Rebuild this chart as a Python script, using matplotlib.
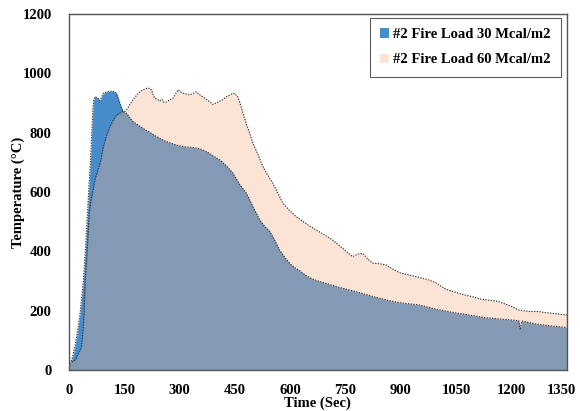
import numpy as np
import matplotlib.pyplot as plt
from matplotlib.transforms import ScaledTranslation

# --- fire test temperature curves (time in s, temperature in deg C) ---
t_30 = [0, 5, 10, 16, 23, 30, 39, 45, 50, 55, 58, 62, 66, 70, 77, 84, 93, 104, 115,
        122, 129, 138, 147, 156, 165, 174, 188, 201, 220, 237, 260, 291, 315, 336,
        355, 373, 390, 409, 427, 445, 463, 481, 499, 517, 530, 544, 557, 571, 585,
        598, 612, 625, 643, 661, 680, 697, 715, 740, 760, 778, 800, 823, 841, 870,
        896, 914, 950, 995, 1040, 1085, 1130, 1175, 1220, 1224, 1228, 1265, 1310, 1350]
temp_30 = [25, 27, 45, 79, 130, 191, 303, 416, 528, 640, 700, 810, 905, 921, 918, 908,
           933, 938, 940, 938, 933, 899, 871, 865, 850, 837, 825, 814, 800, 787, 772,
           758, 752, 750, 745, 736, 722, 708, 688, 663, 625, 596, 550, 506, 485, 468,
           440, 404, 380, 360, 345, 335, 318, 306, 298, 292, 285, 276, 270, 264, 256,
           248, 242, 233, 227, 224, 219, 205, 194, 185, 176, 171, 166, 135, 165, 155,
           148, 143]

t_60 = [0, 5, 10, 18, 25, 30, 34, 38, 41, 44, 47, 50, 55, 60, 66, 70, 75, 85, 93, 102,
        111, 120, 129, 143, 152, 156, 163, 170, 179, 188, 195, 201, 208, 215, 220, 224,
        229, 233, 240, 246, 252, 258, 264, 270, 276, 282, 289, 296, 302, 309, 318, 327,
        336, 345, 354, 363, 372, 381, 390, 399, 409, 418, 427, 436, 445, 452, 458, 465,
        472, 481, 490, 499, 513, 526, 540, 553, 567, 580, 598, 616, 643, 670, 693, 715,
        742, 769, 783, 796, 810, 823, 842, 860, 878, 896, 923, 950, 972, 995, 1022,
        1040, 1058, 1076, 1094, 1112, 1130, 1148, 1166, 1184, 1202, 1220, 1247, 1274,
        1292, 1310, 1330, 1350]
temp_60 = [25, 26, 28, 35, 56, 65, 79, 130, 191, 303, 360, 416, 528, 575, 610, 640, 660,
           700, 752, 790, 820, 842, 859, 870, 872, 876, 890, 904, 920, 933, 940, 944,
           948, 951, 947, 944, 925, 915, 912, 906, 912, 902, 903, 908, 912, 916, 930,
           944, 938, 933, 930, 927, 932, 938, 928, 921, 912, 905, 895, 900, 906, 912,
           921, 926, 933, 928, 921, 895, 865, 830, 798, 764, 725, 685, 655, 629, 595,
           562, 538, 517, 493, 472, 455, 438, 410, 382, 390, 393, 375, 360, 358, 354,
           340, 328, 320, 312, 305, 294, 272, 265, 258, 252, 247, 240, 236, 234, 230,
           222, 213, 202, 197, 197, 193, 191, 188, 185]

labels = ['#2 Fire Load 30 Mcal/m2', '#2 Fire Load 60 Mcal/m2']
x_ticks = np.arange(0, 1351, 150)
y_ticks = np.arange(0, 1201, 200)

plt.rcParams['font.family'] = ['Liberation Serif', 'DejaVu Serif']
plt.rcParams['font.weight'] = 'bold'

fig = plt.figure(figsize=(5.8, 4.11), dpi=100)
ax = fig.add_axes([0.119, 0.100, 0.858, 0.866])

blue = '#478ccb'
peach = '#f6b28a'
dots = (0, (1.2, 1.2))

ax.fill_between(t_30, temp_30, 0, color=blue, linewidth=0, label=labels[0])
ax.plot(t_30, temp_30, color='#333333', linestyle=dots, linewidth=0.8)
ax.fill_between(t_60, temp_60, 0, color=peach, alpha=0.35, linewidth=0, label=labels[1])
ax.plot(t_60, temp_60, color='#333333', linestyle=dots, linewidth=0.8)
ax.plot([1350, 1350], [0, temp_60[-1]], color='#555555', linestyle=dots, linewidth=0.8)

ax.set_xlim(0, 1350)
ax.set_ylim(0, 1200)
ax.set_xticks(x_ticks)
ax.set_yticks(y_ticks)
ax.tick_params(length=0, labelsize=10.5)
ax.tick_params(axis='x', pad=10)
ax.tick_params(axis='y', pad=12.5)
for lbl in ax.get_xticklabels() + ax.get_yticklabels():
    lbl.set_fontweight('bold')
# keep the last time label inside the figure
last = ax.get_xticklabels()[-1]
last.set_transform(last.get_transform() + ScaledTranslation(-4 / 72, 0, fig.dpi_scale_trans))

ax.set_xlabel('Time (Sec)', fontsize=10.5, fontweight='bold', labelpad=0)
ax.set_ylabel('Temperature (°C)', fontsize=10.5, fontweight='bold', labelpad=-2)

for s in ax.spines.values():
    s.set_color('#555555')
    s.set_linewidth(1.0)

leg = ax.legend(loc='upper right', bbox_to_anchor=(0.988, 0.989), borderaxespad=0,
                fancybox=False, frameon=True, edgecolor='#333333',
                prop={'size': 10.5, 'weight': 'bold'},
                handlelength=0.6, handleheight=0.6, handletextpad=0.3,
                labelspacing=0.85, borderpad=0.7)
leg.get_frame().set_linewidth(0.8)

fig.savefig('out.png', dpi=100)
